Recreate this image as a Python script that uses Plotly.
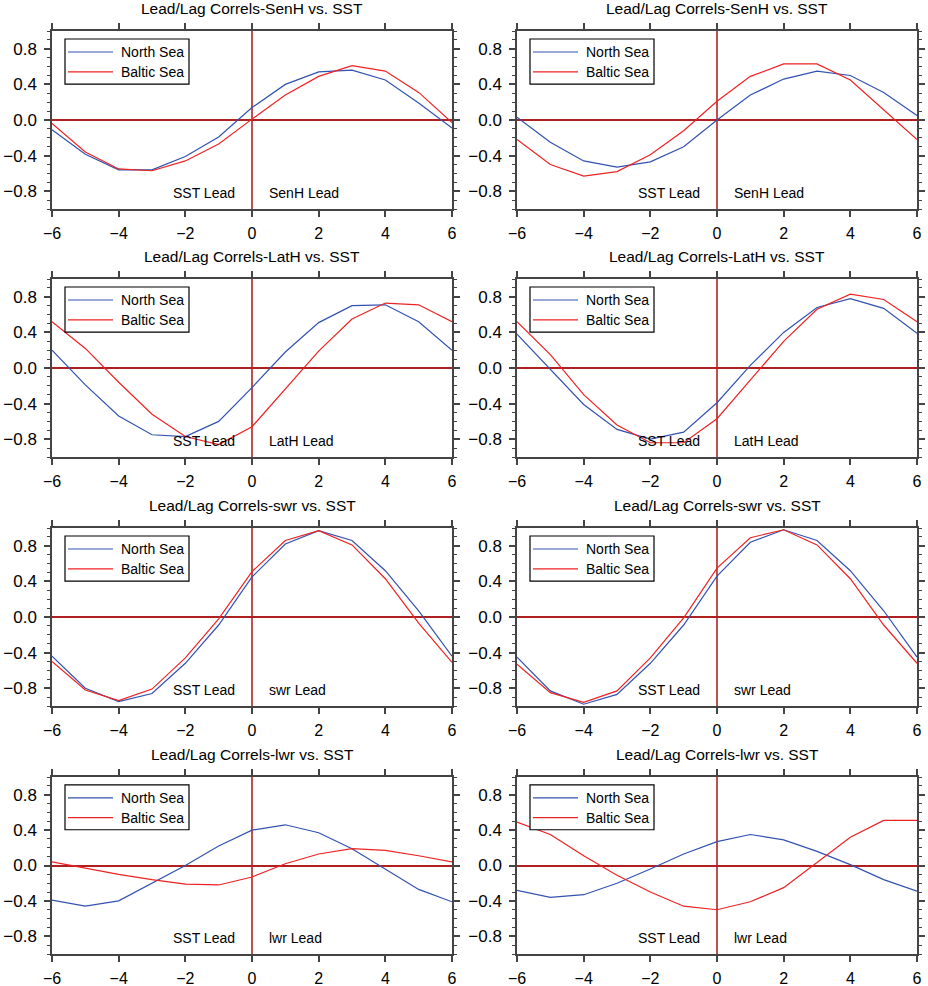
import plotly.graph_objects as go

lags = list(range(-6, 7))
variables = ['SenH', 'SenH', 'LatH', 'LatH', 'swr', 'swr', 'lwr', 'lwr']

north_sea = [
    [-0.11, -0.385, -0.56, -0.56, -0.41, -0.19, 0.14, 0.40, 0.54, 0.56, 0.45, 0.19, -0.09],
    [0.03, -0.25, -0.46, -0.53, -0.47, -0.30, 0.0, 0.28, 0.46, 0.55, 0.50, 0.31, 0.05],
    [0.20, -0.19, -0.54, -0.75, -0.77, -0.60, -0.22, 0.18, 0.51, 0.70, 0.71, 0.52, 0.20],
    [0.38, -0.01, -0.41, -0.69, -0.80, -0.72, -0.39, 0.03, 0.40, 0.68, 0.78, 0.67, 0.39],
    [-0.44, -0.80, -0.95, -0.86, -0.52, -0.09, 0.45, 0.82, 0.97, 0.86, 0.52, 0.07, -0.44],
    [-0.45, -0.83, -0.98, -0.87, -0.52, -0.09, 0.46, 0.84, 0.98, 0.86, 0.52, 0.07, -0.45],
    [-0.39, -0.46, -0.40, -0.20, 0.0, 0.22, 0.40, 0.46, 0.37, 0.19, -0.04, -0.27, -0.41],
    [-0.28, -0.36, -0.33, -0.20, -0.04, 0.13, 0.27, 0.35, 0.29, 0.16, 0.01, -0.16, -0.29],
]
baltic_sea = [
    [-0.04, -0.36, -0.55, -0.57, -0.46, -0.27, 0.01, 0.28, 0.49, 0.61, 0.55, 0.31, -0.03],
    [-0.22, -0.50, -0.63, -0.58, -0.39, -0.12, 0.21, 0.49, 0.63, 0.63, 0.45, 0.12, -0.22],
    [0.52, 0.22, -0.16, -0.52, -0.77, -0.86, -0.66, -0.23, 0.19, 0.55, 0.73, 0.71, 0.52],
    [0.52, 0.15, -0.30, -0.64, -0.84, -0.84, -0.57, -0.13, 0.30, 0.66, 0.83, 0.77, 0.52],
    [-0.50, -0.82, -0.94, -0.81, -0.46, -0.02, 0.51, 0.86, 0.97, 0.81, 0.43, -0.07, -0.51],
    [-0.53, -0.85, -0.96, -0.83, -0.46, -0.01, 0.55, 0.89, 0.98, 0.81, 0.43, -0.09, -0.52],
    [0.04, -0.03, -0.10, -0.16, -0.21, -0.22, -0.13, 0.02, 0.13, 0.19, 0.17, 0.11, 0.04],
    [0.49, 0.35, 0.11, -0.11, -0.30, -0.46, -0.50, -0.41, -0.25, 0.04, 0.32, 0.51, 0.51],
]
y_ticks = [-0.8, -0.4, 0.0, 0.4, 0.8]

W, H = 928, 986
col_x = [(52, 452), (517, 917)]
row_y = [(31, 209), (279, 457), (528, 706), (777, 954)]
blue = '#3352b0'
red = '#ee2222'
font = 'Liberation Sans, Arial, sans-serif'
tick_font = dict(family=font, size=16, color='black')

fig = go.Figure()
shapes = []
annotations = []

for i, var in enumerate(variables):
    r, c = divmod(i, 2)
    n = i + 1
    xa = 'x' if n == 1 else f'x{n}'
    ya = 'y' if n == 1 else f'y{n}'
    fig.add_trace(go.Scatter(x=lags, y=north_sea[i], mode='lines', xaxis=xa, yaxis=ya,
                             line=dict(color=blue, width=1.2), showlegend=False))
    fig.add_trace(go.Scatter(x=lags, y=baltic_sea[i], mode='lines', xaxis=xa, yaxis=ya,
                             line=dict(color=red, width=1.2), showlegend=False))

    x0, x1 = col_x[c]
    y0, y1 = row_y[r]
    ax = dict(domain=[x0 / W, x1 / W], range=[-6, 6], dtick=2, tick0=-6, automargin=False,
              showline=True, linecolor='#444', linewidth=1.5, mirror='ticks',
              ticks='outside', ticklen=6, tickwidth=1.5, tickcolor='#444', ticklabelstandoff=3,
              showgrid=False, zeroline=True, zerolinecolor='#c05050', zerolinewidth=1.5,
              anchor=ya, tickfont=tick_font)
    ay = dict(domain=[1 - y1 / H, 1 - y0 / H], range=[-1, 1], tickvals=y_ticks,
              tickformat='.1f', automargin=False, showline=True, linecolor='#444', linewidth=1.5,
              mirror='ticks', ticks='outside', ticklen=6, tickwidth=1.5, tickcolor='#444',
              ticklabelstandoff=4,
              minor=dict(dtick=0.1, tick0=0, ticks='outside', ticklen=3, tickwidth=1.2,
                         tickcolor='#444'),
              showgrid=False, zeroline=True, zerolinecolor='#b02020', zerolinewidth=1.5,
              anchor=xa, tickfont=dict(family=font, size=17, color='black'))
    fig.layout[xa.replace('x', 'xaxis')] = ax
    fig.layout[ya.replace('y', 'yaxis')] = ay

    xd = f'{xa} domain'
    yd = f'{ya} domain'
    # legend box
    shapes.append(dict(type='rect', xref=xd, yref=yd, x0=0.0325, x1=0.3425, y0=0.702, y1=0.955,
                       line=dict(color='black', width=1.2), fillcolor='white', layer='above'))
    for yy, col, name in [(0.882, blue, 'North Sea'), (0.770, red, 'Baltic Sea')]:
        shapes.append(dict(type='line', xref=xd, yref=yd, x0=0.04, x1=0.1525, y0=yy, y1=yy,
                           line=dict(color=col, width=1.2), layer='above'))
        annotations.append(dict(xref=xd, yref=yd, x=0.1675, y=yy, text=name, showarrow=False,
                                xanchor='left', yanchor='middle',
                                font=dict(family=font, size=14, color='black')))
    # lead labels
    annotations.append(dict(xref=xa, yref=ya, x=-0.45, y=-0.82, text='SST Lead', showarrow=False,
                            xanchor='right', yanchor='middle',
                            font=dict(family=font, size=14, color='black')))
    annotations.append(dict(xref=xa, yref=ya, x=0.45, y=-0.82, text=f'{var} Lead', showarrow=False,
                            xanchor='left', yanchor='middle',
                            font=dict(family=font, size=14, color='black')))
    # title
    annotations.append(dict(xref='paper', yref='paper', x=(x0 + x1) / 2 / W, y=1 - (y0 - 23) / H,
                            text=f'Lead/Lag Correls-{var} vs. SST', showarrow=False,
                            xanchor='center', yanchor='middle',
                            font=dict(family=font, size=15.5, color='black')))

fig.update_layout(width=W, height=H, margin=dict(l=0, r=0, t=0, b=0),
                  plot_bgcolor='white', paper_bgcolor='white',
                  shapes=shapes, annotations=annotations)
fig.write_html('out.html', config={'displayModeBar': False},
               post_script="document.body.style.margin='0';")
